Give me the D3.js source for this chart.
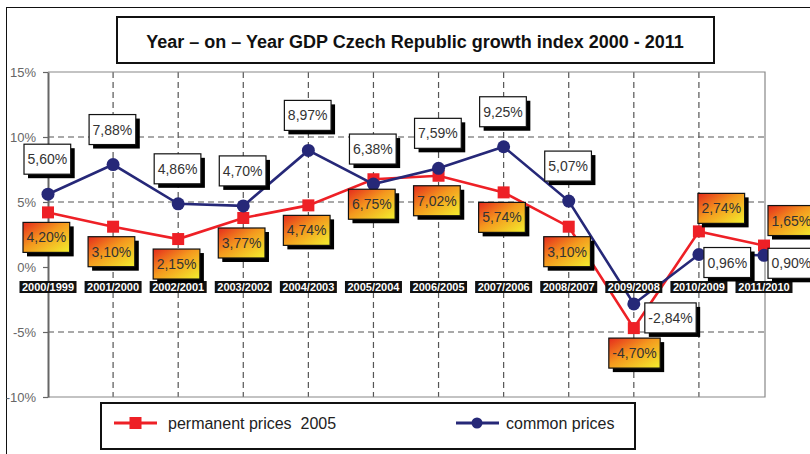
<!DOCTYPE html>
<html>
<head>
<meta charset="utf-8">
<script src="https://cdn.jsdelivr.net/npm/d3@7"></script>
<style>
  html, body { margin: 0; padding: 0; background: #fff; }
  svg { display: block; font-family: "Liberation Sans", Arial, sans-serif; }
</style>
</head>
<body>
<div id="chart"></div>
<script>
const categories = [
  "2000/1999", "2001/2000", "2002/2001", "2003/2002", "2004/2003", "2005/2004",
  "2006/2005", "2007/2006", "2008/2007", "2009/2008", "2010/2009", "2011/2010"
];
const permanentPrices = [4.20, 3.10, 2.15, 3.77, 4.74, 6.75, 7.02, 5.74, 3.10, -4.70, 2.74, 1.65];
const commonPrices    = [5.60, 7.88, 4.86, 4.70, 8.97, 6.38, 7.59, 9.25, 5.07, -2.84, 0.96, 0.90];
const yTicks = [15, 10, 5, 0, -5, -10];
const gridValues = [10, 5, -5];
const titleText = "Year \u2013 on \u2013 Year GDP Czech Republic growth index 2000 - 2011";
const legendLabels = ["permanent prices  2005", "common prices"];

const W = 810, H = 454;
const PLOT = { left: 48, right: 764, top: 72, bottom: 397 };
const RED  = "#ee2026";
const BLUE = "#262878";
const GRID = "#555";
const BOX_H = 30, SHADOW = 4;

const svg = d3.select("#chart").append("svg")
  .attr("width", W).attr("height", H);

const defs = svg.append("defs");
const grad = defs.append("linearGradient")
  .attr("id", "hotBox")
  .attr("x1", 0).attr("y1", 0).attr("x2", 1).attr("y2", 1);
grad.append("stop").attr("offset", "0%").attr("stop-color", "#e52a1c");
grad.append("stop").attr("offset", "45%").attr("stop-color", "#f4981e");
grad.append("stop").attr("offset", "100%").attr("stop-color", "#f3f02e");

// outer frame + title box
svg.append("rect")
  .attr("x", 6.5).attr("y", 7.5).attr("width", 900).attr("height", 500)
  .attr("fill", "none").attr("stroke", "#111").attr("stroke-width", 1);

svg.append("rect")
  .attr("x", 117).attr("y", 17).attr("width", 597).attr("height", 46)
  .attr("fill", "#fff").attr("stroke", "#111").attr("stroke-width", 2);

svg.append("text")
  .attr("x", 415).attr("y", 48)
  .attr("text-anchor", "middle")
  .style("font-size", "18px").style("font-weight", "bold")
  .attr("fill", "#111")
  .text(titleText);

const x = d3.scalePoint().domain(categories).range([PLOT.left, PLOT.right]);
const y = d3.scaleLinear().domain([-10, 15]).range([PLOT.bottom, PLOT.top]);

// ── grid ──
const grid = svg.append("g").attr("class", "grid");

grid.selectAll("line.hgrid")
  .data(gridValues)
  .join("line")
  .attr("class", "hgrid")
  .attr("x1", PLOT.left).attr("x2", PLOT.right)
  .attr("y1", d => y(d)).attr("y2", d => y(d))
  .attr("stroke", GRID).attr("stroke-width", 1.2)
  .attr("stroke-dasharray", "6,4");

grid.selectAll("line.vgrid")
  .data(categories.slice(1, -1))
  .join("line")
  .attr("class", "vgrid")
  .attr("x1", d => x(d)).attr("x2", d => x(d))
  .attr("y1", PLOT.top).attr("y2", PLOT.bottom)
  .attr("stroke", GRID).attr("stroke-width", 1.2)
  .attr("stroke-dasharray", "6,4");

// frame of plot
svg.append("path")
  .attr("d", `M${PLOT.left},${PLOT.top}H${PLOT.right + 1}V${PLOT.bottom}H${PLOT.left}`)
  .attr("fill", "none").attr("stroke", "#888").attr("stroke-width", 1.2);

// ── y axis ──
const yAxis = svg.append("g")
  .attr("transform", `translate(${PLOT.left},0)`)
  .call(d3.axisLeft(y).tickValues(yTicks).tickSize(5).tickSizeOuter(0).tickPadding(7)
    .tickFormat(d => d + "%"));
yAxis.select(".domain").attr("stroke", "#666").attr("stroke-width", 2);
yAxis.selectAll(".tick line").attr("stroke", "#666").attr("stroke-width", 1.2);
yAxis.selectAll(".tick text")
  .style("font-size", "13px")
  .style("font-family", "\"Liberation Sans\", Arial, sans-serif")
  .attr("fill", "#666");

// ── series ──
const line = d3.line().x((d, i) => x(categories[i])).y(d => y(d));

svg.append("path")
  .datum(permanentPrices)
  .attr("d", line)
  .attr("fill", "none").attr("stroke", RED).attr("stroke-width", 2.6);

svg.selectAll("rect.red-pt")
  .data(permanentPrices)
  .join("rect")
  .attr("class", "red-pt")
  .attr("x", (d, i) => x(categories[i]) - 6)
  .attr("y", d => y(d) - 6)
  .attr("width", 12).attr("height", 12)
  .attr("fill", RED);

svg.append("path")
  .datum(commonPrices)
  .attr("d", line)
  .attr("fill", "none").attr("stroke", BLUE).attr("stroke-width", 2.6);

svg.selectAll("circle.blue-pt")
  .data(commonPrices)
  .join("circle")
  .attr("class", "blue-pt")
  .attr("cx", (d, i) => x(categories[i]))
  .attr("cy", d => y(d))
  .attr("r", 6.5)
  .attr("fill", BLUE);

// ── category labels (black tags) ──
const catG = svg.append("g").attr("class", "cats");
catG.selectAll("rect")
  .data(categories)
  .join("rect")
  .attr("x", d => x(d) - 28.5)
  .attr("y", 281)
  .attr("width", 57).attr("height", 12)
  .attr("fill", "#111");
catG.selectAll("text")
  .data(categories)
  .join("text")
  .attr("x", d => x(d))
  .attr("y", 291)
  .attr("text-anchor", "middle")
  .style("font-size", "11px").style("font-weight", "bold")
  .attr("fill", "#fff")
  .text(d => d);

// ── value labels ──
const fmt = v => v.toFixed(2).replace(".", ",") + "%";

function redOffset(i) {
  if (i === 10) return [-1, -38];
  if (i === 11) return [4, -40];
  return [-25, 10];
}
function blueOffset(i) {
  if (i === 9) return [11, -1];
  if (i === 10) return [5, -7];
  if (i === 11) return [4, -7];
  return [-24, -50];
}

function drawLabels(values, offset, fill, cls) {
  const g = svg.append("g").attr("class", cls);
  values.forEach((v, i) => {
    const [dx, dy] = offset(i);
    const bx = x(categories[i]) + dx;
    const by = y(v) + dy;
    const lg = g.append("g");
    const shadow = lg.append("rect").attr("fill", "#000");
    const box = lg.append("rect").attr("fill", fill)
      .attr("stroke", "#111").attr("stroke-width", 1.2);
    const t = lg.append("text")
      .attr("y", by + BOX_H / 2 + 5)
      .attr("text-anchor", "middle")
      .style("font-size", "14px")
      .attr("fill", "#333")
      .text(fmt(v));
    const bw = Math.max(44, t.node().getComputedTextLength() + 7);
    t.attr("x", bx + bw / 2);
    shadow.attr("x", bx + SHADOW).attr("y", by + SHADOW).attr("width", bw).attr("height", BOX_H);
    box.attr("x", bx).attr("y", by).attr("width", bw).attr("height", BOX_H);
  });
}

drawLabels(commonPrices, blueOffset, "#fff", "blue-labels");
drawLabels(permanentPrices, redOffset, "url(#hotBox)", "red-labels");

// ── legend ──
const leg = svg.append("g").attr("class", "legend");
leg.append("rect")
  .attr("x", 101).attr("y", 403).attr("width", 534).attr("height", 46)
  .attr("fill", "#fff").attr("stroke", "#111").attr("stroke-width", 2);

leg.append("line")
  .attr("x1", 114).attr("x2", 157).attr("y1", 423).attr("y2", 423)
  .attr("stroke", RED).attr("stroke-width", 3);
leg.append("rect")
  .attr("x", 129.5).attr("y", 417).attr("width", 12).attr("height", 12)
  .attr("fill", RED);
leg.append("text")
  .attr("x", 168).attr("y", 429)
  .style("font-size", "16px").attr("fill", "#222")
  .attr("xml:space", "preserve")
  .text(legendLabels[0]);

leg.append("line")
  .attr("x1", 456).attr("x2", 499).attr("y1", 423).attr("y2", 423)
  .attr("stroke", BLUE).attr("stroke-width", 3);
leg.append("circle")
  .attr("cx", 477).attr("cy", 423).attr("r", 5.5)
  .attr("fill", BLUE);
leg.append("text")
  .attr("x", 506).attr("y", 429)
  .style("font-size", "16px").attr("fill", "#222")
  .text(legendLabels[1]);
</script>
</body>
</html>
